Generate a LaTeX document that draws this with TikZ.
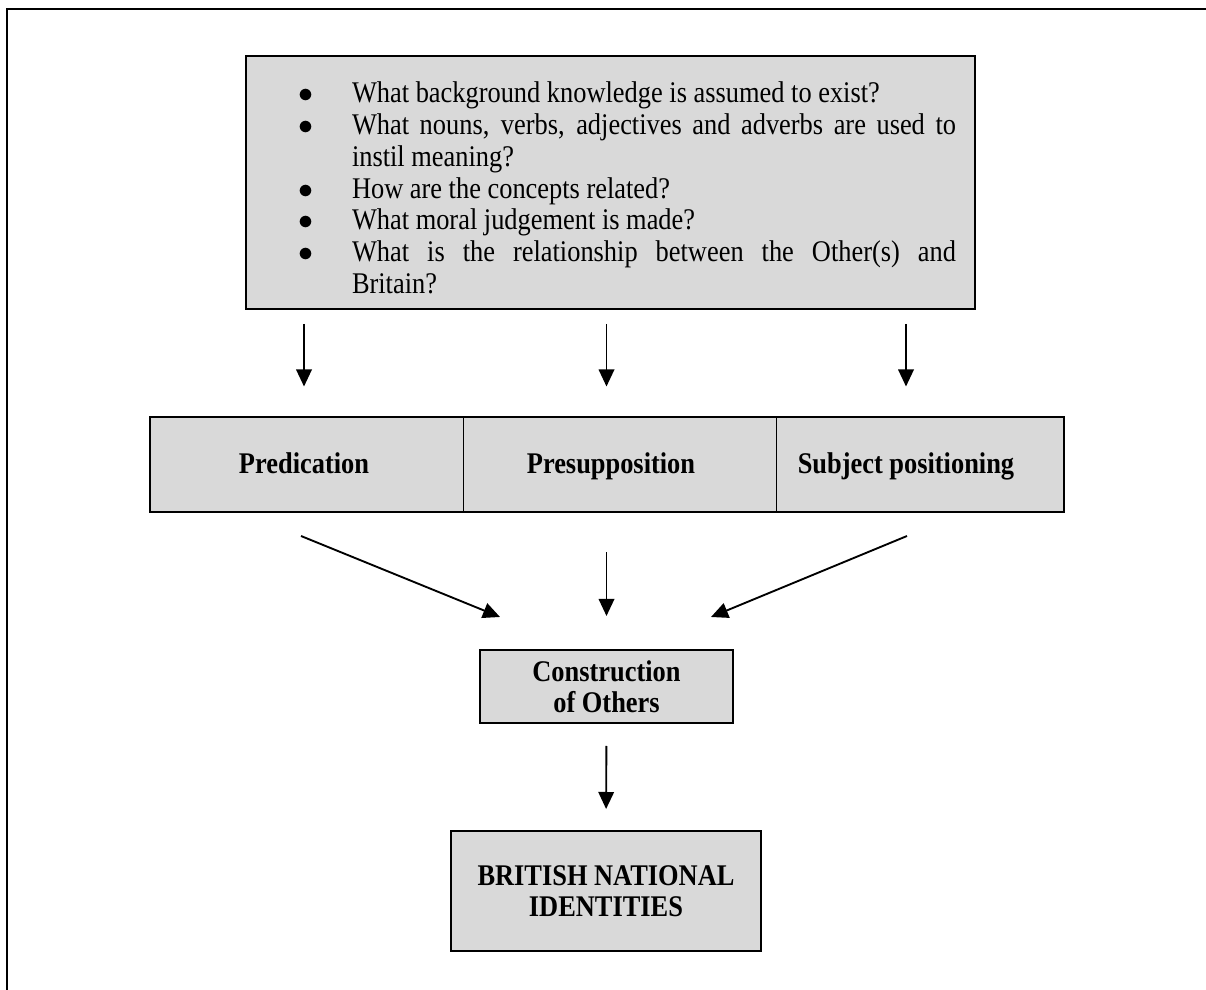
\documentclass[tikz,border=0pt]{standalone}
\usepackage{fontspec}
\setmainfont{Liberation Serif}[FakeStretch=0.88]
\usetikzlibrary{arrows.meta}
\definecolor{boxgray}{HTML}{D9D9D9}

\begin{document}
\begin{tikzpicture}[x=0.4pt,y=-0.4pt,
  box/.style={draw,line width=0.8pt,fill=boxgray,inner sep=0pt,align=center,
    font=\fontsize{12}{12.6}\selectfont\bfseries},
  cell/.style={draw,line width=0.4pt,fill=boxgray,inner sep=0pt,minimum height=37.6pt},
  lbl/.style={inner sep=1pt,text height=1.6ex,text depth=0.4ex,
    font=\fontsize{12}{12.6}\selectfont\bfseries},
  arr/.style={-{Triangle[length=6.8pt,width=6.2pt]},line width=0.75pt}]
\useasboundingbox (0,0) rectangle (1206,990);
\draw[line width=0.9pt] (7,990) -- (7,9) -- (1206,9);

% questions
\node[box,font=\fontsize{12}{12.7}\selectfont,minimum width=291.6pt,minimum height=101.2pt,
  text width=276.4pt,align=justify] (qbox) at (610.5,182.5) {%
  \tolerance=10000 \hyphenpenalty=10000
  \begin{list}{$\bullet$}{\setlength{\leftmargin}{34.8pt}\setlength{\labelsep}{15.6pt}%
    \setlength{\labelwidth}{19.2pt}\setlength{\itemsep}{0pt}\setlength{\parsep}{0pt}%
    \setlength{\topsep}{0pt}\setlength{\partopsep}{0pt}}
  \item What background knowledge is assumed to exist?
  \item What nouns, verbs, adjectives and adverbs are used to\linebreak instil meaning?
  \item How are the concepts related?
  \item What moral judgement is made?
  \item What is the relationship between the Other(s) and\linebreak Britain?
  \end{list}};

% three strategies
\node[cell,minimum width=124.8pt] (pred) at (307,465) {};
\node[cell,minimum width=125.2pt] (presup) at (619.5,465) {};
\node[cell,minimum width=114.8pt] (subj) at (919.5,465) {};
\draw[line width=0.8pt] (pred.north west) rectangle (subj.south east);
\node[lbl] (predlbl) at (304,467) {Predication};
\node[lbl] (presuplbl) at (611,467) {Presupposition};
\node[lbl] (subjlbl) at (906,467) {Subject positioning};

\node[box,minimum width=101.2pt,minimum height=29.2pt] (cons) at (606.5,686.5) {Construction\\of Others};
\node[box,minimum width=124pt,minimum height=48pt] (brit) at (606,891) {BRITISH NATIONAL\\IDENTITIES};

% arrows
\draw[arr,shorten <=5.6pt,shorten >=12.4pt] (qbox.south -| predlbl) -- (pred.north -| predlbl);
\draw[arr,shorten <=5.6pt,shorten >=12.4pt] (qbox.south -| cons) -- (presup.north -| cons);
\draw[arr,shorten <=5.6pt,shorten >=12.4pt] (qbox.south -| subjlbl) -- (subj.north -| subjlbl);

\coordinate (l0) at (301,536);
\coordinate (l1) at (500,617);
\coordinate (r0) at (907,536);
\coordinate (r1) at (711,617);
\draw[arr] (l0) -- (l1);
\draw[arr] (r0) -- (r1);
\draw[arr,shorten <=16pt,shorten >=13.2pt] (presup.south -| cons) -- (cons.north);
\draw[arr,shorten <=8.8pt,shorten >=8.4pt] (cons.south) -- (brit.north);
\end{tikzpicture}
\end{document}
